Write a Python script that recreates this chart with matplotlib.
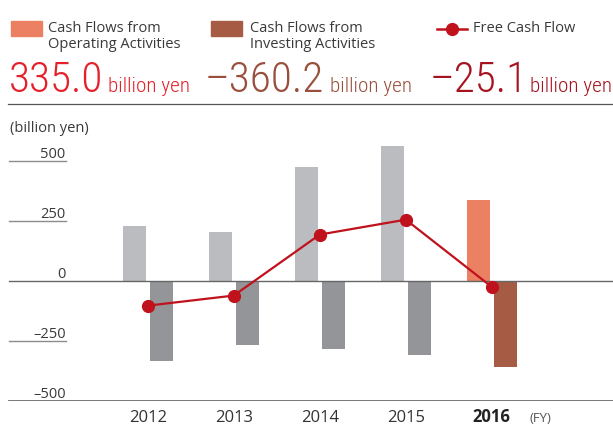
import os
import matplotlib
matplotlib.use("Agg")
import matplotlib.pyplot as plt
from matplotlib import font_manager as fm
from matplotlib.patches import Rectangle
from matplotlib.lines import Line2D
import numpy as np

# data (billion yen)
years = ["2012", "2013", "2014", "2015", "2016"]
operating = [229, 204, 475, 562, 335.0]
investing = [-332, -265, -282, -307, -360.2]
free_cf = [-103, -61, 193, 255, -25.1]
yticks = [500, 250, 0, -250, -500]
ytick_labels = ["500", "250", "0", "\u2013250", "\u2013500"]
headline = ["335.0", "\u2013360.2", "\u201325.1"]

W, H = 613, 427
fig = plt.figure(figsize=(W / 100, H / 100), dpi=100)


def fx(px):
    return px / W


def fy(py):
    return 1 - py / H


txt_font = ["Open Sans", "DejaVu Sans"]

# find a condensed face for the big figures
prefer = ["NotoSans-ExtraCondensedLight.ttf", "NotoSans-CondensedLight.ttf",
          "LiberationSansNarrow-Regular.ttf", "NotoSans-ExtraCondensed.ttf",
          "NotoSans-Condensed.ttf", "RobotoCondensed-Light.ttf",
          "RobotoCondensed-Regular.ttf", "DejaVuSansCondensed.ttf"]
files = {os.path.basename(f.fname): f.fname for f in fm.fontManager.ttflist}
num_path = None
for p in prefer:
    if p in files:
        num_path = files[p]
        break
if num_path is None:
    for b, path in files.items():
        lb = b.lower()
        if ("condensed" in lb or "narrow" in lb) and "bold" not in lb and "italic" not in lb and "oblique" not in lb:
            num_path = path
            break


def num_prop(size):
    if num_path:
        return fm.FontProperties(fname=num_path, size=size)
    return fm.FontProperties(family="DejaVu Sans", size=size)


op_col = ["#bbbcbf"] * 4 + ["#ec8062"]
inv_col = ["#939598"] * 4 + ["#a65b44"]
line_col = "#c0121c"

# main axes: pixel rows 110 (top) .. 402 (bottom, -500)
ax = fig.add_axes([0, fy(402), 1, (402 - 110) / H])
ax.set_xlim(-147.8 / 86, (W - 147.8) / 86)
ax.set_ylim(-500, (282 - 110) / 0.2403)
ax.axis("off")

x = np.arange(len(years))
bw = 0.267
ax.bar(x - 0.157, operating, width=bw, color=op_col, zorder=2)
ax.bar(x + 0.157, investing, width=bw, color=inv_col, zorder=2)

ytr = ax.get_yaxis_transform()
for v, lab in zip(yticks, ytick_labels):
    if v == 0:
        ax.plot([fx(9), 1], [v, v], color="#666666", lw=1.0, transform=ytr, zorder=3)
    elif v == -500:
        ax.plot([fx(9), 1], [v, v], color="#6d6d6d", lw=1.3, transform=ytr, zorder=3)
    else:
        ax.plot([fx(9), fx(66)], [v, v], color="#8c8c8c", lw=1.0, transform=ytr, zorder=3)
    ax.text(fx(65.5), v + 18, lab, ha="right", va="baseline", fontsize=10.5,
            color="#3a3a3a", family=txt_font, transform=ytr)

ax.plot(x, free_cf, color=line_col, lw=1.6, marker="o", ms=8.5, zorder=4)

xtr = ax.get_xaxis_transform()
for i, y in enumerate(years):
    bold = i == len(years) - 1
    ax.text(x[i], (402 - 422.5) / 292, y, ha="center", va="baseline", fontsize=12,
            fontweight="bold" if bold else "normal",
            color="#222222" if bold else "#333333", family=txt_font, transform=xtr)
fig.text(fx(529), fy(422.5), "(FY)", ha="left", va="baseline", fontsize=9.5,
         color="#555555", family=txt_font)

fig.text(fx(10), fy(128), "(billion yen)", ha="left", va="center", fontsize=10.5,
         color="#3a3a3a", family=txt_font)

# separator under header
fig.add_artist(Line2D([fx(8), 1], [fy(105), fy(105)], color="#555555", lw=0.9))

# legend header
fig.add_artist(Rectangle((fx(11), fy(37)), fx(31), 15 / H, color="#ec8062",
                         transform=fig.transFigure))
fig.add_artist(Rectangle((fx(211), fy(37)), fx(31), 15 / H, color="#a65b44",
                         transform=fig.transFigure))
fig.add_artist(Line2D([fx(437), fx(467)], [fy(30), fy(30)], color=line_col, lw=1.8,
                      transform=fig.transFigure))
fig.add_artist(Line2D([fx(452)], [fy(30)], color=line_col, marker="o", ms=8.5,
                      transform=fig.transFigure))

leg_kw = dict(fontsize=10.5, color="#3a3a3a", family=txt_font, ha="left", va="center")
fig.text(fx(48), fy(29), "Cash Flows from", **leg_kw)
fig.text(fx(48), fy(44), "Operating Activities", **leg_kw)
fig.text(fx(250), fy(29), "Cash Flows from", **leg_kw)
fig.text(fx(250), fy(44), "Investing Activities", **leg_kw)
fig.text(fx(473), fy(29), "Free Cash Flow", **leg_kw)

# big figures: size fitted so "335.0" spans ~95 px and "billion yen" ~82 px
renderer = fig.canvas.get_renderer()
probe = fig.text(0, 0, headline[0], fontproperties=num_prop(30))
big_size = 30 * 95 / probe.get_window_extent(renderer).width
probe.set_text("billion yen")
unit_size = 30 * 82 / probe.get_window_extent(renderer).width
probe.remove()

heads = [(9, 108, "#e5202a"), (205, 330, "#9a4f3c"), (430, 530, "#a6131e")]
for val, (x0, x1, c) in zip(headline, heads):
    fig.text(fx(x0), fy(92), val, ha="left", va="baseline",
             fontproperties=num_prop(big_size), color=c)
    fig.text(fx(x1), fy(92), "billion yen", ha="left", va="baseline",
             fontproperties=num_prop(unit_size), color=c)

fig.savefig("out.png", dpi=100)
